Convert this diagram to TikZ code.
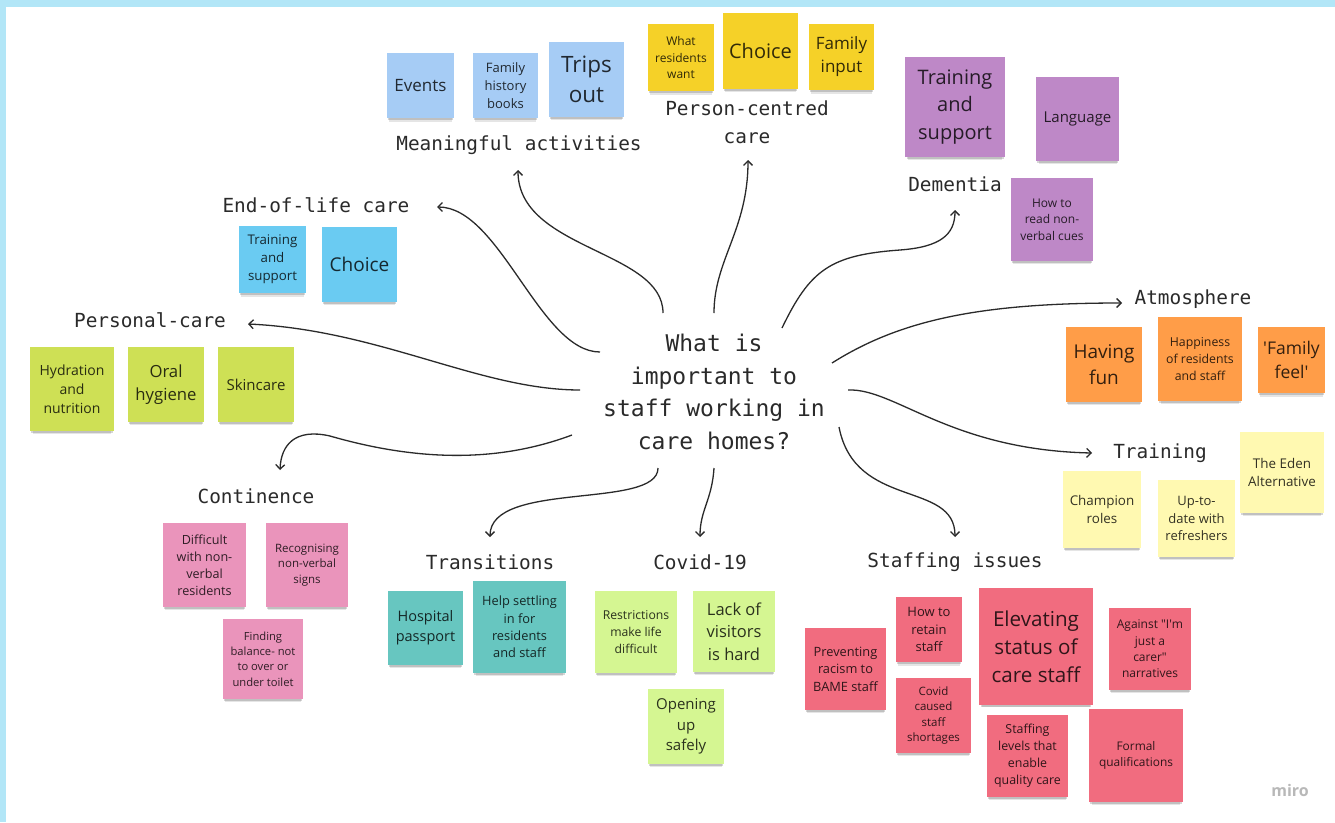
\documentclass[tikz,border=0pt]{standalone}
\usepackage{fontspec}
\setmainfont{Open Sans}
\newfontfamily\monof{DejaVu Sans Mono}
\usetikzlibrary{arrows.meta,shadows}
\definecolor{frame}{HTML}{B2E6F7}
\definecolor{mblue}{HTML}{A6CCF5}
\definecolor{yel}{HTML}{F5D128}
\definecolor{purp}{HTML}{BE88C7}
\definecolor{cyanst}{HTML}{6ACBF2}
\definecolor{oran}{HTML}{FF9D48}
\definecolor{lyel}{HTML}{FFF9B1}
\definecolor{lime}{HTML}{CEE055}
\definecolor{pinkst}{HTML}{EA94BB}
\definecolor{teal}{HTML}{67C6C0}
\definecolor{lgreen}{HTML}{D5F692}
\definecolor{redst}{HTML}{F16C7F}
\definecolor{ink}{HTML}{2A2A2A}
\tikzset{
  fs/.style={font=\fontsize{#1}{\fpeval{1.36*#1}}\selectfont},
  stick/.style={fill=#1, inner sep=1pt, align=center, text=black, text opacity=0.8,
    general shadow={fill=black, opacity=0.10, shadow yshift=-6pt, shadow scale=0.94},
    general shadow={fill=black, opacity=0.16, shadow yshift=-3.5pt, shadow scale=0.97}},
  lab/.style={font=\monof\fontsize{19.4}{28}\selectfont, text=ink, inner sep=1pt},
  conn/.style={draw=ink, line width=1.3pt, -{Straight Barb[length=4.5pt,width=9pt]}}
}
\newcommand\note[8]{\node[stick=#6, fs=#7, minimum width={(#4)-(#2)}, minimum height={(#5)-(#3)}] (#1) at ({((#2)+(#4))/2},{((#3)+(#5))/2}) {#8};}
\begin{document}
\begin{tikzpicture}[x=1pt,y=-1pt]
\useasboundingbox (0,0) rectangle (1335,822);
\fill[frame] (0,0) rectangle (1335,822);
\fill[white] (6,7) rectangle (1335,822);

% Meaningful activities
\note{ev}{387}{53}{454}{118}{mblue}{17}{Events}
\note{fhb}{473}{53}{538}{118}{mblue}{13}{Family\\history\\books}
\note{trips}{549}{42}{624}{117}{mblue}{22.5}{Trips\\out}
% Person-centred care
\note{wrw}{648}{24}{714}{91}{yel}{12}{What\\residents\\want}
\note{pch}{723}{13}{798}{89}{yel}{20}{Choice}
\note{fin}{809}{24}{874}{90}{yel}{17}{Family\\input}
% Dementia
\note{dts}{905}{57}{1005}{157}{purp}{20}{Training\\and\\support}
\note{lang}{1036}{77}{1119}{161}{purp}{15}{Language}
\note{nvc}{1011}{178}{1093}{261}{purp}{12}{How to\\read non-\\verbal cues}
% End-of-life care
\note{ets}{239}{226}{306}{293}{cyanst}{13.3}{Training\\and\\support}
\note{ech}{322}{227}{397}{302}{cyanst}{19}{Choice}
% Atmosphere
\note{fun}{1066}{327}{1142}{402}{oran}{19}{Having\\fun}
\note{hap}{1158}{317}{1242}{401}{oran}{12.3}{Happiness\\of residents\\and staff}
\note{ffe}{1258}{327}{1325}{393}{oran}{17.5}{\textquotesingle Family\\feel\textquotesingle}
% Training
\note{cha}{1063}{471}{1141}{548}{lyel}{13.4}{Champion\\roles}
\note{utd}{1158}{480}{1235}{557}{lyel}{13}{Up-to-\\date with\\refreshers}
\note{eden}{1240}{432}{1324}{513}{lyel}{13.4}{The Eden\\Alternative}
% Personal-care
\note{hyd}{30}{347}{114}{431}{lime}{14}{Hydration\\and\\nutrition}
\note{oral}{128}{347}{204}{422}{lime}{16.7}{Oral\\hygiene}
\note{skin}{218}{347}{294}{422}{lime}{15}{Skincare}
% Continence
\note{dif}{163}{523}{246}{607}{pinkst}{12.6}{Difficult\\with non-\\verbal\\residents}
\note{rec}{266}{523}{348}{607}{pinkst}{11.5}{Recognising\\non-verbal\\signs}
\note{fbal}{223}{619}{303}{699}{pinkst}{11.2}{Finding\\balance- not\\to over or\\under toilet}
% Transitions
\note{hosp}{388}{591}{463}{665}{teal}{14.5}{Hospital\\passport}
\note{help}{473}{581}{566}{673}{teal}{12.8}{Help settling\\in for\\residents\\and staff}
% Covid-19
\note{restr}{595}{591}{677}{673}{lgreen}{12.2}{Restrictions\\make life\\difficult}
\note{lack}{693}{591}{775}{672}{lgreen}{16.5}{Lack of\\visitors\\is hard}
\note{open}{648}{689}{724}{764}{lgreen}{15}{Opening\\up\\safely}
% Staffing issues
\note{prev}{805}{628}{886}{710}{redst}{12.8}{Preventing\\racism to\\BAME staff}
\note{ret}{896}{597}{962}{662}{redst}{13}{How to\\retain\\staff}
\note{cov}{896}{678}{971}{753}{redst}{11.5}{Covid\\caused\\staff\\shortages}
\note{elev}{979}{588}{1093}{705}{redst}{20.6}{Elevating\\status of\\care staff}
\note{agst}{1109}{608}{1191}{690}{redst}{12}{Against \textquotedbl I\textquotesingle m\\just a\\carer\textquotedbl\\narratives}
\note{stf}{987}{715}{1068}{797}{redst}{12.4}{Staffing\\levels that\\enable\\quality care}
\note{formal}{1089}{709}{1183}{802}{redst}{11.9}{Formal\\qualifications}

% Labels
\node[lab] (lMA) at (519,145) {Meaningful activities};
\node[lab, align=center] (lPC) at (747,122) {Person-centred\\care};
\node[lab] (lDem) at (955,184) {Dementia};
\node[lab] (lEOL) at (316,205) {End-of-life care};
\node[lab] (lAtm) at (1193,299) {Atmosphere};
\node[lab] (lPer) at (150,320) {Personal-care};
\node[lab] (lTr) at (1160,453) {Training};
\node[lab] (lCon) at (256,496) {Continence};
\node[lab] (lTra) at (490,562) {Transitions};
\node[lab] (lCov) at (700,562) {Covid-19};
\node[lab] (lSt) at (955,562) {Staffing issues};

% Centre question
\node[font=\monof\fontsize{23}{32.5}\selectfont, text=ink, align=center] (q) at (714,392) {What is\\important to\\staff working in\\care homes?};

% connector ends
\coordinate (sMA) at (663,313);  \coordinate (eMA) at (518,170);
\coordinate (sEOL) at (600,352); \coordinate (eEOL) at (437,207);
\coordinate (sPC) at (714,313);  \coordinate (ePC) at (748,160);
\coordinate (sDem) at (782,328); \coordinate (eDem) at (955,210);
\coordinate (sAtm) at (832,363); \coordinate (eAtm) at (1122,303);
\coordinate (sTr) at (848,390);  \coordinate (eTr) at (1092,453);
\coordinate (sSt) at (839,427);  \coordinate (eSt) at (955,537);
\coordinate (sCov) at (714,468); \coordinate (eCov) at (700,537);
\coordinate (sTra) at (658,468); \coordinate (eTra) at (490,537);
\coordinate (sPer) at (580,390); \coordinate (ePer) at (248,324);
\coordinate (sCon) at (572,435); \coordinate (eCon) at (280,470);

\draw[conn] (sMA) .. controls (663,250) and (518,250) .. (eMA);
\draw[conn] (sEOL) .. controls (540,352) and (500,207) .. (eEOL);
\draw[conn] (sPC) .. controls (714,260) and (748,230) .. (ePC);
\draw[conn] (sDem) .. controls (810,270) and (830,255) .. (900,250) .. controls (940,247) and (955,235) .. (eDem);
\draw[conn] (sAtm) .. controls (900,320) and (980,303) .. (eAtm);
\draw[conn] (sTr) .. controls (895,388) and (950,450) .. (eTr);
\draw[conn] (sSt) .. controls (855,510) and (955,480) .. (eSt);
\draw[conn] (sCov) .. controls (712,500) and (700,510) .. (eCov);
\draw[conn] (sTra) .. controls (658,510) and (490,480) .. (eTra);
\draw[conn] (sPer) .. controls (480,390) and (380,330) .. (ePer);
\draw[conn] (sCon) .. controls (500,462) and (420,462) .. (330,436) .. controls (295,428) and (281,445) .. (eCon);

\node[font=\fontsize{16}{16}\selectfont\bfseries, text=black!28] (miro) at (1290,790) {miro};
\end{tikzpicture}
\end{document}
